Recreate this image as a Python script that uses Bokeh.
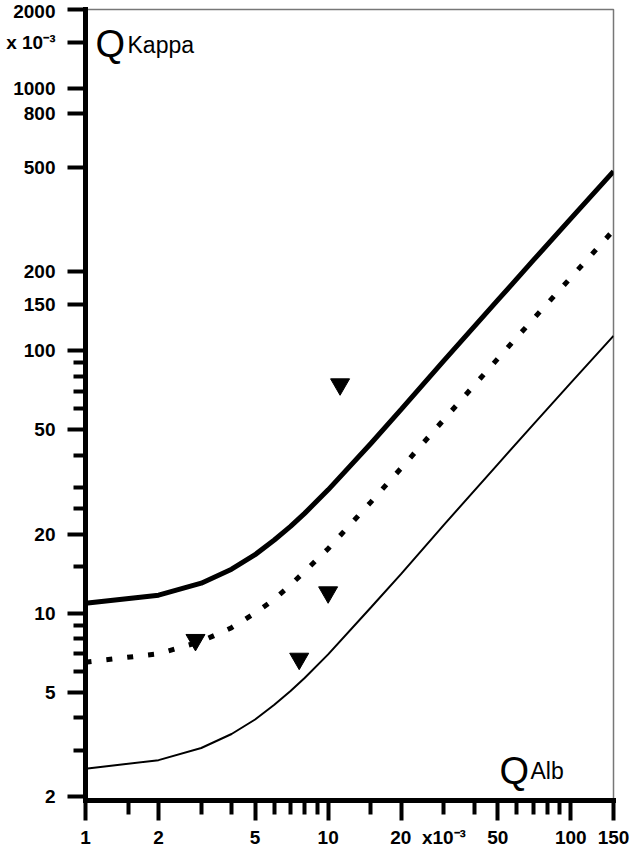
from bokeh.plotting import figure
from bokeh.models import FixedTicker, Label, Range1d
from bokeh.embed import file_html
from bokeh.resources import INLINE

# Q_Alb (x10^-3) sampling points
q_alb = [1, 2, 3, 4, 5, 6, 7, 8, 10, 15, 20, 30, 50, 70, 100, 150]
# upper discrimination line (thick)
q_lim_upper = [10.9, 11.7, 13.0, 14.7, 16.7, 19.0, 21.4, 24.0, 29.5, 44.3, 59.8, 91.7, 156, 221, 319, 483]
# mean line (dotted)
q_mean = [6.5, 7.0, 7.8, 8.8, 10.0, 11.3, 12.8, 14.4, 17.6, 26.5, 35.7, 54.7, 93.3, 132, 190, 288]
# lower line (thin)
q_lim_lower = [2.55, 2.75, 3.06, 3.46, 3.93, 4.47, 5.05, 5.66, 6.96, 10.5, 14.1, 21.7, 36.9, 52.3, 75.4, 114]

# patient values
patient_qalb = [2.84, 7.6, 10.0, 11.2]
patient_qkappa = [7.9, 6.7, 12.0, 74.5]

# ticks
PAD = "\u2003\u2003\u00a0\u00a0\u00a0"
x_major = [1, 2, 5, 10, 20, 50, 100, 150]
x_minor = [1.5, 3, 4, 6, 7, 8, 9, 15, 30, 40, 60, 70, 80, 90]
x_labels = ["1", "2", "5", "10", PAD + "20\u00a0\u00a0x10\u207b\u00b3", "50", "100", "150"]
y_major = [2, 5, 10, 20, 50, 100, 150, 200, 500, 800, 1000, 1500, 2000]
y_minor = [3, 4, 6, 7, 8, 9, 15, 25, 30, 40, 60, 70, 80, 90]
y_labels = ["2", "5", "10", "20", "50", "100", "150", "200", "500", "800", "1000", "x 10\u207b\u00b3", "2000"]

FONT = "Liberation Sans"

p = figure(width=630, height=850, x_axis_type="log", y_axis_type="log",
           x_range=Range1d(1, 150), y_range=Range1d(1.93, 2000),
           output_backend="svg", toolbar_location=None,
           min_border_left=85, min_border_right=17, min_border_top=9, min_border_bottom=49,
           background_fill_color="white", border_fill_color="white")

p.xgrid.visible = False
p.ygrid.visible = False
p.outline_line_color = "#777777"
p.outline_line_width = 1.5

p.xaxis.ticker = FixedTicker(ticks=x_major, minor_ticks=x_minor)
p.yaxis.ticker = FixedTicker(ticks=y_major, minor_ticks=y_minor)
p.xaxis.major_label_overrides = {v: s for v, s in zip(x_major, x_labels)}
p.yaxis.major_label_overrides = {v: s for v, s in zip(y_major, y_labels)}

for ax in (p.xaxis[0], p.yaxis[0]):
    ax.axis_line_width = 5
    ax.axis_line_color = "black"
    ax.axis_line_cap = "square"
    ax.axis_label_standoff = 0
    ax.major_tick_line_width = 4
    ax.minor_tick_line_width = 4
    ax.major_tick_line_color = "black"
    ax.minor_tick_line_color = "black"
    ax.major_tick_in = 0
    ax.minor_tick_in = 0
    ax.major_label_text_font = FONT
    ax.major_label_text_font_style = "bold"
    ax.major_label_text_font_size = "19px"
    ax.major_label_text_color = "black"

p.yaxis.major_tick_out = 18
p.yaxis.minor_tick_out = 12
p.yaxis.major_label_standoff = 12
p.xaxis.major_tick_out = 20
p.xaxis.minor_tick_out = 14
p.xaxis.major_label_standoff = 6

p.line(q_alb, q_lim_upper, line_color="black", line_width=5)
p.line(q_alb, q_mean, line_color="black", line_width=5, line_dash="6 15")
p.line(q_alb, q_lim_lower, line_color="black", line_width=2)
p.scatter(patient_qalb, patient_qkappa, marker="inverted_triangle", size=19,
          fill_color="black", line_color="black")

# in-plot labels
p.add_layout(Label(x=10, y=757, x_units="screen", y_units="screen", text="Q",
                   text_baseline="alphabetic", text_font=FONT, text_font_size="38px",
                   text_color="black"))
p.add_layout(Label(x=42, y=756, x_units="screen", y_units="screen", text="Kappa",
                   text_baseline="alphabetic", text_font=FONT, text_font_size="23px",
                   text_color="black"))
p.add_layout(Label(x=414, y=30, x_units="screen", y_units="screen", text="Q",
                   text_baseline="alphabetic", text_font=FONT, text_font_size="38px",
                   text_color="black"))
p.add_layout(Label(x=445, y=30, x_units="screen", y_units="screen", text="Alb",
                   text_baseline="alphabetic", text_font=FONT, text_font_size="23px",
                   text_color="black"))

open("out.html", "w").write(file_html(p, INLINE))
